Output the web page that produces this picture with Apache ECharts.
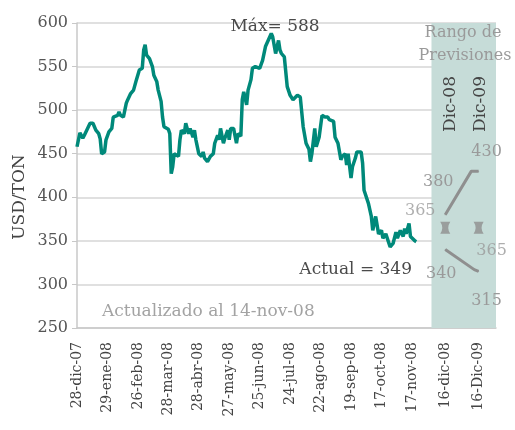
<!DOCTYPE html>
<html>
<head>
<meta charset="utf-8">
<script src="https://cdn.jsdelivr.net/npm/echarts@6.0.0/dist/echarts.min.js"></script>
<style>
html, body { margin: 0; padding: 0; background: #fff; }
#chart { width: 515px; height: 430px; }
</style>
</head>
<body>
<div id="chart"></div>
<script>
// dias habiles desde 28-dic-07 y precio (USD/TON)
var dias = [0, 2, 4, 5, 6, 9, 11, 13, 15, 16, 17, 19, 20, 22, 24, 25, 28, 29, 30, 31, 32, 34, 35, 37, 39, 41, 43, 45, 46, 47, 48, 50, 52, 53, 55, 56, 58, 59, 60, 63, 64, 65, 66, 67, 70, 71, 72, 74, 75, 77, 78, 80, 81, 82, 84, 86, 87, 88, 90, 92, 94, 95, 97, 98, 99, 101, 102, 104, 105, 106, 108, 110, 111, 113, 114, 115, 117, 118, 120, 121, 123, 126, 128, 130, 134, 135, 137, 139, 140, 141, 143, 145, 147, 149, 152, 154, 156, 158, 160, 161, 162, 164, 165, 167, 169, 171, 173, 174, 177, 178, 180, 182, 183, 185, 186, 187, 189, 190, 192, 193, 196, 197, 198, 201, 203, 204, 206, 208, 210, 211, 213, 216, 218, 220, 221, 223, 225, 226, 227, 229, 230, 233, 234]
var precios = [458, 474, 468, 471, 470, 485, 485, 477, 473, 467, 450, 452, 466, 475, 479, 492, 494, 498, 494, 496, 492, 508, 512, 519, 523, 535, 546, 548, 569, 575, 563, 559, 550, 540, 533, 523, 510, 492, 481, 478, 473, 427, 435, 450, 447, 466, 477, 473, 485, 473, 479, 469, 477, 466, 450, 447, 452, 445, 441, 447, 450, 462, 471, 466, 479, 462, 468, 477, 466, 479, 479, 462, 473, 470, 512, 521, 506, 523, 535, 548, 550, 548, 557, 573, 588, 584, 565, 580, 569, 565, 561, 527, 517, 512, 517, 515, 481, 462, 455, 441, 450, 479, 458, 469, 494, 492, 492, 489, 487, 469, 462, 443, 447, 450, 437, 450, 422, 435, 445, 452, 452, 439, 408, 393, 378, 362, 378, 358, 362, 353, 358, 343, 347, 360, 353, 362, 355, 364, 358, 370, 355, 350, 349]

// etiquetas del eje x (posicion en dias)
var tickPos = [0, 21, 42, 63, 84, 105, 126, 147, 168, 189, 210, 231, 254, 277]
var tickLabels = ['28-dic-07', '29-ene-08', '26-feb-08', '28-mar-08', '28-abr-08', '27-may-08', '25-jun-08', '24-jul-08', '22-ago-08', '19-sep-08', '17-oct-08', '17-nov-08', '16-dic-08', '16-Dic-09']

// rango de previsiones
var rangoInicio = 244.5
var rangoFin = 289
var altoX = [254, 272, 277]
var altoY = [380, 430, 430]
var bajoX = [254, 274, 277]
var bajoY = [340, 317, 315]
var medioX = [254, 277]
var medioY = [365, 365]

var serif = '"DejaVu Serif", serif'
var gris = '#8f8f8f'

function puntos (xs, ys, offsets) {
  return xs.map(function (x, i) {
    var off = offsets[i]
    return {
      value: [x, ys[i]],
      label: off ? {show: true, offset: off} : {show: false}
    }
  })
}

function texto (x, y, txt, color, size, align, rot) {
  return {
    type: 'text', x: x, y: y, z: 100, rotation: rot || 0,
    style: {text: txt, fill: color, fontFamily: serif, fontSize: size, align: align, verticalAlign: 'middle'}
  }
}

var etiquetaPrev = {
  show: true,
  position: 'inside',
  align: 'center',
  verticalAlign: 'middle',
  formatter: function (p) { return p.value[1] },
  color: '#9a9a9a',
  fontFamily: serif,
  fontSize: 16
}

var myChart = echarts.init(document.getElementById('chart'))
myChart.setOption({
  animation: false,
  grid: {left: 77, right: 19, top: 23, bottom: 102},
  xAxis: {
    type: 'value',
    min: 0,
    max: rangoFin,
    splitLine: {show: false},
    axisLine: {show: true, lineStyle: {color: '#c8c8c8', width: 1.5}},
    axisTick: {show: false},
    axisLabel: {
      customValues: tickPos,
      rotate: 90,
      margin: 14,
      color: '#444',
      fontFamily: serif,
      fontSize: 14,
      formatter: function (v) {
        var i = tickPos.indexOf(v)
        return i >= 0 ? tickLabels[i] : ''
      }
    }
  },
  yAxis: {
    type: 'value',
    min: 250,
    max: 600,
    interval: 50,
    axisLine: {show: true, lineStyle: {color: '#c8c8c8', width: 1.5}},
    axisTick: {show: true, length: 5, lineStyle: {color: '#c8c8c8'}},
    splitLine: {lineStyle: {color: '#d6d6d6', width: 1.5}},
    axisLabel: {margin: 9, color: '#555', fontFamily: serif, fontSize: 16}
  },
  series: [
    {
      name: 'precio',
      type: 'line',
      showSymbol: false,
      lineStyle: {color: '#00897a', width: 3.5},
      data: dias.map(function (d, i) { return [d, precios[i]] }),
      markArea: {
        silent: true,
        itemStyle: {color: '#c6dcd8'},
        data: [[{xAxis: rangoInicio}, {xAxis: rangoFin}]]
      }
    },
    {
      name: 'alto',
      type: 'line',
      z: 4,
      symbol: 'circle',
      symbolSize: 1,
      itemStyle: {color: gris},
      lineStyle: {color: gris, width: 3},
      label: etiquetaPrev,
      data: puntos(altoX, altoY, [[-7, -33], null, [8, -19]])
    },
    {
      name: 'bajo',
      type: 'line',
      z: 4,
      symbol: 'circle',
      symbolSize: 1,
      itemStyle: {color: gris},
      lineStyle: {color: gris, width: 3},
      label: etiquetaPrev,
      data: puntos(bajoX, bajoY, [[-4, 24], null, [8, 29]])
    },
    {
      name: 'medio',
      type: 'scatter',
      z: 4,
      symbol: 'path://M0,0 L10,0 Q6,6 10,12 L0,12 Q4,6 0,0 Z',
      symbolSize: [10, 12],
      itemStyle: {color: gris},
      label: etiquetaPrev,
      data: puntos(medioX, medioY, [[-25, -17], [13, 23]])
    }
  ],
  graphic: [
    texto(20, 197, 'USD/TON', '#444', 17, 'center', Math.PI / 2),
    texto(275, 27, 'Máx= ' + Math.max.apply(null, precios), '#4a4a4a', 17, 'center'),
    texto(412, 270, 'Actual = ' + precios[precios.length - 1], '#4a4a4a', 17, 'right'),
    texto(102, 312, 'Actualizado al 14-nov-08', '#a3a3a3', 17, 'left'),
    texto(463, 33, 'Rango de', '#9a9a9a', 16, 'center'),
    texto(465, 56, 'Previsiones', '#9a9a9a', 16, 'center'),
    texto(451, 104, 'Dic-08', '#444', 17, 'center', Math.PI / 2),
    texto(481, 104, 'Dic-09', '#444', 17, 'center', Math.PI / 2)
  ]
})
</script>
</body>
</html>
